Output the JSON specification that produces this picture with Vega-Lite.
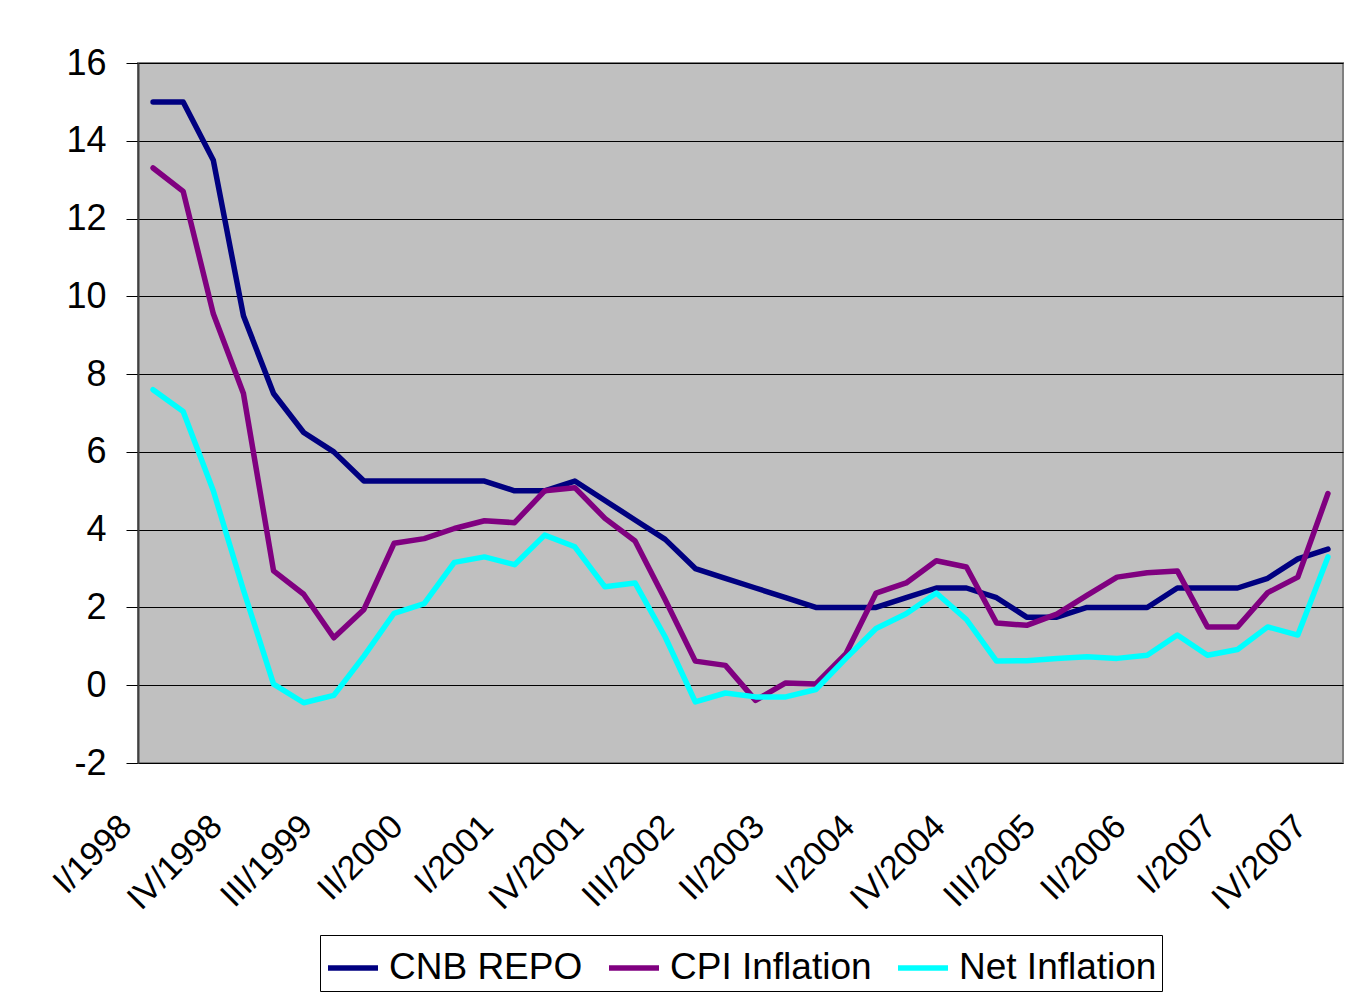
{
  "$schema": "https://vega.github.io/schema/vega-lite/v6.json",
  "autosize": {"type": "none"},
  "width": 1205,
  "height": 700,
  "padding": {"left": 138, "top": 63, "right": 10, "bottom": 231},
  "background": "white",
  "config": {
    "view": {"fill": "#C0C0C0", "stroke": "#808080", "strokeWidth": 2},
    "font": "Liberation Sans"
  },
  "data": {
    "values": [
      {"q": "I/1998", "s": "CNB REPO", "v": 15},
      {"q": "II/1998", "s": "CNB REPO", "v": 15},
      {"q": "III/1998", "s": "CNB REPO", "v": 13.5},
      {"q": "IV/1998", "s": "CNB REPO", "v": 9.5},
      {"q": "I/1999", "s": "CNB REPO", "v": 7.5},
      {"q": "II/1999", "s": "CNB REPO", "v": 6.5},
      {"q": "III/1999", "s": "CNB REPO", "v": 6.0},
      {"q": "IV/1999", "s": "CNB REPO", "v": 5.25},
      {"q": "I/2000", "s": "CNB REPO", "v": 5.25},
      {"q": "II/2000", "s": "CNB REPO", "v": 5.25},
      {"q": "III/2000", "s": "CNB REPO", "v": 5.25},
      {"q": "IV/2000", "s": "CNB REPO", "v": 5.25},
      {"q": "I/2001", "s": "CNB REPO", "v": 5.0},
      {"q": "II/2001", "s": "CNB REPO", "v": 5.0},
      {"q": "III/2001", "s": "CNB REPO", "v": 5.25},
      {"q": "IV/2001", "s": "CNB REPO", "v": 4.75},
      {"q": "I/2002", "s": "CNB REPO", "v": 4.25},
      {"q": "II/2002", "s": "CNB REPO", "v": 3.75},
      {"q": "III/2002", "s": "CNB REPO", "v": 3.0},
      {"q": "IV/2002", "s": "CNB REPO", "v": 2.75},
      {"q": "I/2003", "s": "CNB REPO", "v": 2.5},
      {"q": "II/2003", "s": "CNB REPO", "v": 2.25},
      {"q": "III/2003", "s": "CNB REPO", "v": 2.0},
      {"q": "IV/2003", "s": "CNB REPO", "v": 2.0},
      {"q": "I/2004", "s": "CNB REPO", "v": 2.0},
      {"q": "II/2004", "s": "CNB REPO", "v": 2.25},
      {"q": "III/2004", "s": "CNB REPO", "v": 2.5},
      {"q": "IV/2004", "s": "CNB REPO", "v": 2.5},
      {"q": "I/2005", "s": "CNB REPO", "v": 2.25},
      {"q": "II/2005", "s": "CNB REPO", "v": 1.75},
      {"q": "III/2005", "s": "CNB REPO", "v": 1.75},
      {"q": "IV/2005", "s": "CNB REPO", "v": 2.0},
      {"q": "I/2006", "s": "CNB REPO", "v": 2.0},
      {"q": "II/2006", "s": "CNB REPO", "v": 2.0},
      {"q": "III/2006", "s": "CNB REPO", "v": 2.5},
      {"q": "IV/2006", "s": "CNB REPO", "v": 2.5},
      {"q": "I/2007", "s": "CNB REPO", "v": 2.5},
      {"q": "II/2007", "s": "CNB REPO", "v": 2.75},
      {"q": "III/2007", "s": "CNB REPO", "v": 3.25},
      {"q": "IV/2007", "s": "CNB REPO", "v": 3.5},
      {"q": "I/1998", "s": "CPI Inflation", "v": 13.3},
      {"q": "II/1998", "s": "CPI Inflation", "v": 12.7},
      {"q": "III/1998", "s": "CPI Inflation", "v": 9.55},
      {"q": "IV/1998", "s": "CPI Inflation", "v": 7.5},
      {"q": "I/1999", "s": "CPI Inflation", "v": 2.94},
      {"q": "II/1999", "s": "CPI Inflation", "v": 2.34},
      {"q": "III/1999", "s": "CPI Inflation", "v": 1.22},
      {"q": "IV/1999", "s": "CPI Inflation", "v": 1.95},
      {"q": "I/2000", "s": "CPI Inflation", "v": 3.65},
      {"q": "II/2000", "s": "CPI Inflation", "v": 3.77},
      {"q": "III/2000", "s": "CPI Inflation", "v": 4.03},
      {"q": "IV/2000", "s": "CPI Inflation", "v": 4.23},
      {"q": "I/2001", "s": "CPI Inflation", "v": 4.18},
      {"q": "II/2001", "s": "CPI Inflation", "v": 5.0},
      {"q": "III/2001", "s": "CPI Inflation", "v": 5.08},
      {"q": "IV/2001", "s": "CPI Inflation", "v": 4.29},
      {"q": "I/2002", "s": "CPI Inflation", "v": 3.71},
      {"q": "II/2002", "s": "CPI Inflation", "v": 2.2},
      {"q": "III/2002", "s": "CPI Inflation", "v": 0.62},
      {"q": "IV/2002", "s": "CPI Inflation", "v": 0.51},
      {"q": "I/2003", "s": "CPI Inflation", "v": -0.39},
      {"q": "II/2003", "s": "CPI Inflation", "v": 0.06},
      {"q": "III/2003", "s": "CPI Inflation", "v": 0.03},
      {"q": "IV/2003", "s": "CPI Inflation", "v": 0.81},
      {"q": "I/2004", "s": "CPI Inflation", "v": 2.37},
      {"q": "II/2004", "s": "CPI Inflation", "v": 2.63},
      {"q": "III/2004", "s": "CPI Inflation", "v": 3.2},
      {"q": "IV/2004", "s": "CPI Inflation", "v": 3.04},
      {"q": "I/2005", "s": "CPI Inflation", "v": 1.6},
      {"q": "II/2005", "s": "CPI Inflation", "v": 1.54},
      {"q": "III/2005", "s": "CPI Inflation", "v": 1.83},
      {"q": "IV/2005", "s": "CPI Inflation", "v": 2.31},
      {"q": "I/2006", "s": "CPI Inflation", "v": 2.78},
      {"q": "II/2006", "s": "CPI Inflation", "v": 2.89},
      {"q": "III/2006", "s": "CPI Inflation", "v": 2.94},
      {"q": "IV/2006", "s": "CPI Inflation", "v": 1.5},
      {"q": "I/2007", "s": "CPI Inflation", "v": 1.5},
      {"q": "II/2007", "s": "CPI Inflation", "v": 2.38},
      {"q": "III/2007", "s": "CPI Inflation", "v": 2.78},
      {"q": "IV/2007", "s": "CPI Inflation", "v": 4.93},
      {"q": "I/1998", "s": "Net Inflation", "v": 7.6},
      {"q": "II/1998", "s": "Net Inflation", "v": 7.04},
      {"q": "III/1998", "s": "Net Inflation", "v": 5.0},
      {"q": "IV/1998", "s": "Net Inflation", "v": 2.45},
      {"q": "I/1999", "s": "Net Inflation", "v": 0.03},
      {"q": "II/1999", "s": "Net Inflation", "v": -0.45},
      {"q": "III/1999", "s": "Net Inflation", "v": -0.26},
      {"q": "IV/1999", "s": "Net Inflation", "v": 0.75},
      {"q": "I/2000", "s": "Net Inflation", "v": 1.85},
      {"q": "II/2000", "s": "Net Inflation", "v": 2.1},
      {"q": "III/2000", "s": "Net Inflation", "v": 3.16},
      {"q": "IV/2000", "s": "Net Inflation", "v": 3.3},
      {"q": "I/2001", "s": "Net Inflation", "v": 3.1},
      {"q": "II/2001", "s": "Net Inflation", "v": 3.86},
      {"q": "III/2001", "s": "Net Inflation", "v": 3.56},
      {"q": "IV/2001", "s": "Net Inflation", "v": 2.53},
      {"q": "I/2002", "s": "Net Inflation", "v": 2.63},
      {"q": "II/2002", "s": "Net Inflation", "v": 1.24},
      {"q": "III/2002", "s": "Net Inflation", "v": -0.43},
      {"q": "IV/2002", "s": "Net Inflation", "v": -0.2},
      {"q": "I/2003", "s": "Net Inflation", "v": -0.3},
      {"q": "II/2003", "s": "Net Inflation", "v": -0.3},
      {"q": "III/2003", "s": "Net Inflation", "v": -0.11},
      {"q": "IV/2003", "s": "Net Inflation", "v": 0.69},
      {"q": "I/2004", "s": "Net Inflation", "v": 1.46},
      {"q": "II/2004", "s": "Net Inflation", "v": 1.84},
      {"q": "III/2004", "s": "Net Inflation", "v": 2.37},
      {"q": "IV/2004", "s": "Net Inflation", "v": 1.69},
      {"q": "I/2005", "s": "Net Inflation", "v": 0.62},
      {"q": "II/2005", "s": "Net Inflation", "v": 0.63},
      {"q": "III/2005", "s": "Net Inflation", "v": 0.69},
      {"q": "IV/2005", "s": "Net Inflation", "v": 0.73},
      {"q": "I/2006", "s": "Net Inflation", "v": 0.69},
      {"q": "II/2006", "s": "Net Inflation", "v": 0.77},
      {"q": "III/2006", "s": "Net Inflation", "v": 1.29},
      {"q": "IV/2006", "s": "Net Inflation", "v": 0.77},
      {"q": "I/2007", "s": "Net Inflation", "v": 0.92},
      {"q": "II/2007", "s": "Net Inflation", "v": 1.5},
      {"q": "III/2007", "s": "Net Inflation", "v": 1.29},
      {"q": "IV/2007", "s": "Net Inflation", "v": 3.3}
    ]
  },
  "mark": {"type": "line", "strokeWidth": 5.5, "strokeCap": "round", "strokeJoin": "round"},
  "encoding": {
    "x": {
      "field": "q",
      "type": "nominal",
      "sort": null,
      "scale": {"type": "point", "padding": 0.5},
      "axis": {
        "title": null,
        "values": ["I/1998", "IV/1998", "III/1999", "II/2000", "I/2001", "IV/2001", "III/2002", "II/2003", "I/2004", "IV/2004", "III/2005", "II/2006", "I/2007", "IV/2007"],
        "labelAngle": -45,
        "labelAlign": "right",
        "labelBaseline": "middle",
        "labelOffset": -27,
        "labelPadding": 58,
        "labelFontSize": 34,
        "labelColor": "#000000",
        "labelFont": "Liberation Sans",
        "ticks": false,
        "domain": false,
        "grid": false,
        "labelOverlap": false
      }
    },
    "y": {
      "field": "v",
      "type": "quantitative",
      "scale": {"domain": [-2, 16], "nice": false, "zero": false},
      "axis": {
        "title": null,
        "values": [-2, 0, 2, 4, 6, 8, 10, 12, 14, 16],
        "labelExpr": "datum.value + ''",
        "labelFontSize": 36,
        "labelColor": "#000000",
        "labelFont": "Liberation Sans",
        "labelPadding": 20,
        "tickSize": 12,
        "tickColor": "#000000",
        "tickWidth": 1,
        "domainColor": "#404040",
        "domainWidth": 2,
        "grid": true,
        "gridColor": "#000000",
        "gridWidth": 1,
        "gridOpacity": 1
      }
    },
    "color": {
      "field": "s",
      "type": "nominal",
      "sort": null,
      "scale": {
        "domain": ["CNB REPO", "CPI Inflation", "Net Inflation"],
        "range": ["#000080", "#800080", "#00FFFF"]
      },
      "legend": {
        "title": null,
        "orient": "none",
        "legendX": 182,
        "legendY": 872,
        "direction": "horizontal",
        "symbolType": "stroke",
        "symbolSize": 2500,
        "symbolStrokeWidth": 5.5,
        "labelFontSize": 37,
        "labelFont": "Liberation Sans",
        "labelColor": "#000000",
        "labelOffset": 8,
        "columnPadding": 15,
        "padding": 5,
        "strokeColor": "#000000",
        "fillColor": "#FFFFFF",
        "cornerRadius": 0,
        "labelLimit": 400
      }
    }
  }
}
